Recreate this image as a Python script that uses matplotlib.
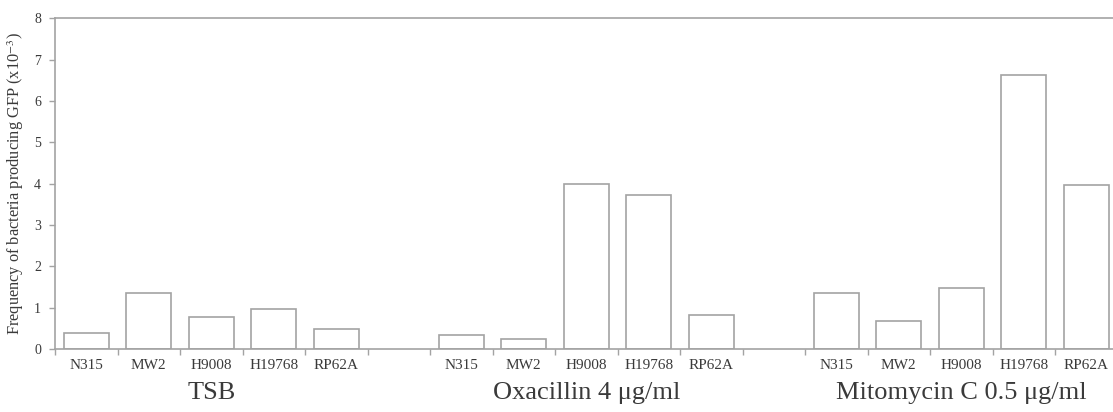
import matplotlib
matplotlib.use("Agg")
import matplotlib.pyplot as plt
import numpy as np

strains = ["N315", "MW2", "H9008", "H19768", "RP62A"]
groups = ["TSB", "Oxacillin 4 μg/ml", "Mitomycin C 0.5 μg/ml"]
tsb = [0.38, 1.35, 0.78, 0.96, 0.48]
oxacillin = [0.34, 0.23, 3.99, 3.72, 0.82]
mitomycin = [1.36, 0.68, 1.47, 6.62, 3.96]
yticks = [0, 1, 2, 3, 4, 5, 6, 7, 8]
ylabel = "Frequency of bacteria producing GFP (x10$^{-3}$)"

plt.rcParams['font.family'] = ['Liberation Serif', 'DejaVu Serif']
plt.rcParams['mathtext.fontset'] = 'stix'

W, H = 1113, 412
fig = plt.figure(figsize=(W / 100, H / 100), dpi=100)
slot = 62.5
left_px, top_px, bot_px = 55, 18.3, 349
nslots = 17
ax = fig.add_axes([left_px / W, 1 - bot_px / H, nslots * slot / W, (bot_px - top_px) / H])

edge = '#a3a3a3'
txt = '#3a3a3a'
series = [tsb, oxacillin, mitomycin]
centers = []
glabel_y = -(393 - bot_px) / (bot_px - top_px)
for g, vals in enumerate(series):
    pos = np.arange(len(strains)) + g * (len(strains) + 1)
    ax.bar(pos, vals, width=0.72, facecolor='white', edgecolor=edge, linewidth=1.2)
    centers.extend(pos)
    ax.text(pos[2], glabel_y, groups[g], transform=ax.get_xaxis_transform(),
            ha='center', va='center', fontsize=19, color=txt)

ax.set_xlim(-0.5, nslots - 0.5)
ax.set_ylim(0, 8)
ax.set_yticks(yticks)
ax.set_xticks(centers)
ax.set_xticklabels(strains * 3, fontsize=11, color=txt)
ax.set_xticks(np.arange(-0.5, nslots, 1.0), minor=True)
ax.tick_params(axis='x', which='major', length=0, pad=7)
ax.tick_params(axis='x', which='minor', length=4, color=edge, width=1)
ax.tick_params(axis='y', length=4, color=edge, width=1, labelsize=10, labelcolor=txt, pad=6)
for s in ['left', 'bottom', 'top']:
    ax.spines[s].set_color(edge)
    ax.spines[s].set_linewidth(1.2)
ax.spines['right'].set_visible(False)
ax.set_ylabel(ylabel, fontsize=11.8, color=txt, labelpad=6)

fig.savefig("out.png", dpi=100, facecolor='white')
